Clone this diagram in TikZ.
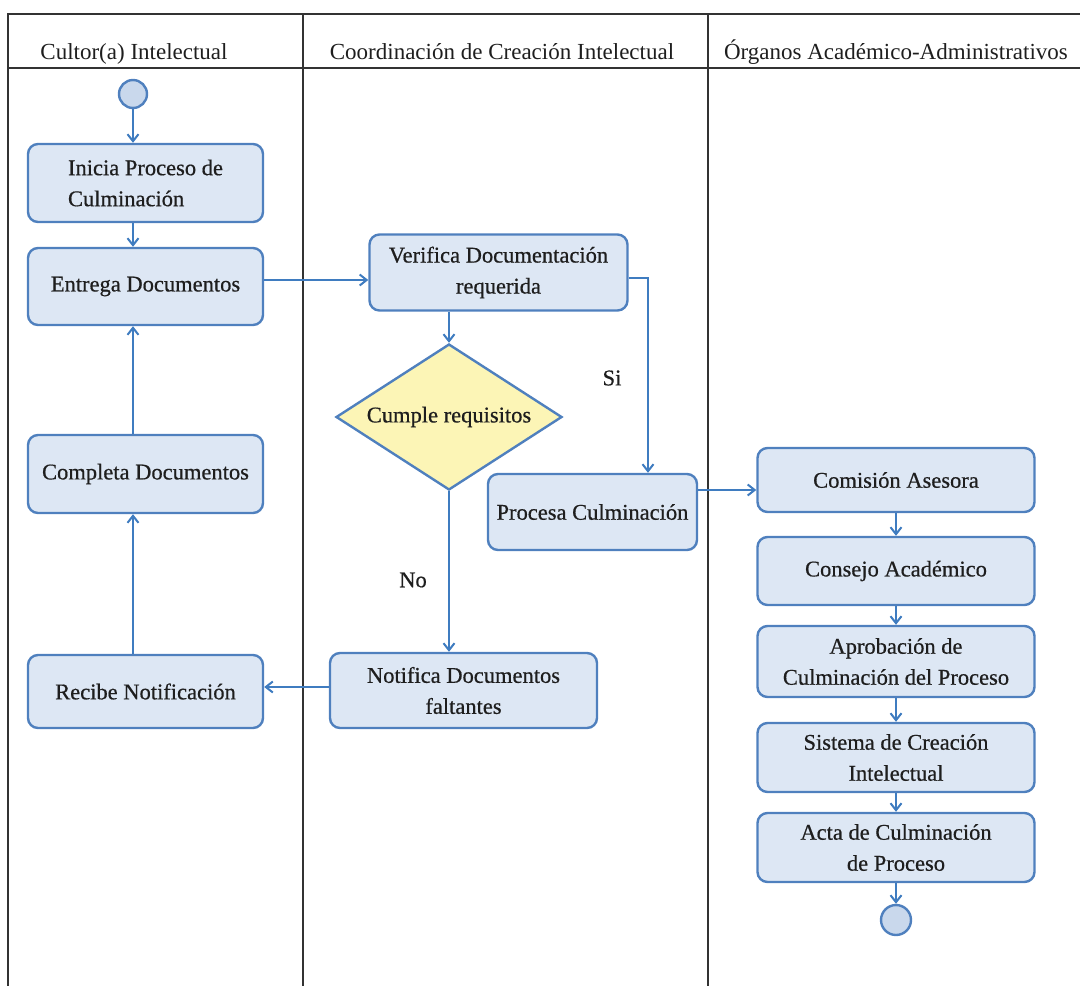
\documentclass[tikz,border=0pt]{standalone}
\usepackage{fontspec}
\setmainfont{Liberation Serif}
\newfontfamily\boxfont[FakeBold=0.6]{Liberation Serif}
\usetikzlibrary{arrows.meta,shapes.geometric}
\definecolor{boxfill}{HTML}{DDE7F4}
\definecolor{boxline}{HTML}{4F80BE}
\definecolor{flowline}{HTML}{3F7CC0}
\definecolor{decfill}{HTML}{FCF5B6}
\definecolor{dotfill}{HTML}{C9D8EC}
\definecolor{frameline}{HTML}{333333}
\definecolor{ink}{HTML}{1E1E1E}
\tikzset{
  lane/.style={draw=frameline, line width=1.8pt},
  head/.style={anchor=base, text=ink},
  act/.style={draw=boxline, fill=boxfill, line width=2.4pt, rounded corners=10pt,
    text=ink, align=center, inner sep=2pt, font=\fontsize{22.5}{31}\boxfont},
  decision/.style={diamond, draw=boxline, fill=decfill, line width=2.4pt, text=ink,
    inner sep=0pt, aspect=1.55, minimum width=226pt, minimum height=146pt,
    font=\fontsize{22.5}{31}\boxfont},
  dot/.style={circle, draw=boxline, fill=dotfill, line width=2.4pt, minimum size=28pt, inner sep=0pt},
  arr/.style={draw=flowline, line width=2pt, -{Straight Barb[length=7pt,width=11pt,line width=2pt]}},
  lbl/.style={text=ink, font=\fontsize{22.5}{31}\boxfont}
}
\begin{document}
\begin{tikzpicture}[x=1pt, y=-1pt, font=\fontsize{23}{31}\selectfont]
\useasboundingbox (0,0) rectangle (1080,986);

% swimlane frame
\draw[lane] (1080,14) -- (8,14) -- (8,986);
\draw[lane] (8,68) -- (1080,68);
\draw[lane] (303,14) -- (303,986);
\draw[lane] (708,14) -- (708,986);
\node[head] (h1) at (134,59) {Cultor(a) Intelectual};
\node[head] (h2) at (502,59) {Coordinación de Creación Intelectual};
\node[head] (h3) at (896,59) {Órganos Académico-Administrativos};

% first lane
\node[dot] (start) at (133,94) {};
\node[act, minimum width=235pt, minimum height=78pt, align=left] (inicia) at (145.5,183)
  {Inicia Proceso de\\Culminación};
\node[act, minimum width=235pt, minimum height=77pt] (entrega) at (145.5,286.5) {Entrega Documentos};
\node[act, minimum width=235pt, minimum height=78pt] (completa) at (145.5,474) {Completa Documentos};
\node[act, minimum width=235pt, minimum height=73pt] (recibe) at (145.5,691.5) {Recibe Notificación};

% second lane
\node[act, minimum width=258pt, minimum height=76pt] (verifica) at (498.5,272.5)
  {Verifica Documentación\\requerida};
\node[decision] (cumple) at (449,417) {Cumple requisitos};
\node[act, minimum width=209pt, minimum height=76pt, inner sep=0pt] (procesa) at (592.5,512) {Procesa Culminación};
\node[act, minimum width=267pt, minimum height=75pt] (notifica) at (463.5,690.5)
  {Notifica Documentos\\faltantes};
\coordinate (siline) at (648,0);
\node[lbl] (si) at (612,378) {Si};
\node[lbl] (no) at (413,580) {No};

% third lane
\node[act, minimum width=277pt, minimum height=64pt] (comision) at (896,480) {Comisión Asesora};
\node[act, minimum width=277pt, minimum height=68pt] (consejo) at (896,571) {Consejo Académico};
\node[act, minimum width=277pt, minimum height=71pt] (aprob) at (896,661.5)
  {Aprobación de\\Culminación del Proceso};
\node[act, minimum width=277pt, minimum height=69pt] (sistema) at (896,757.5)
  {Sistema de Creación\\Intelectual};
\node[act, minimum width=277pt, minimum height=69pt] (acta) at (896,847.5)
  {Acta de Culminación\\de Proceso};
\node[dot, minimum size=30pt] (fin) at (896,920) {};

% connectors
\draw[arr] (start) -- (start |- inicia.north);
\draw[arr] (inicia.south -| start) -- (entrega.north -| start);
\draw[arr] (entrega.east |- 0,280) -- (verifica.west |- 0,280);
\draw[arr] (cumple.north |- verifica.south) -- (cumple.north);
\draw[arr] (verifica.east |- 0,278) -| (siline |- procesa.north);
\draw[arr] (cumple.south) -- (cumple.south |- notifica.north);
\draw[arr] (notifica.west |- 0,687) -- (recibe.east |- 0,687);
\draw[arr] (recibe.north -| start) -- (completa.south -| start);
\draw[arr] (completa.north -| start) -- (entrega.south -| start);
\draw[arr, line width=2.6pt] (procesa.east |- 0,490) -- (comision.west |- 0,490);
\draw[arr] (comision) -- (consejo);
\draw[arr] (consejo) -- (aprob);
\draw[arr] (aprob) -- (sistema);
\draw[arr] (sistema) -- (acta);
\draw[arr] (acta) -- (fin);
\end{tikzpicture}
\end{document}
